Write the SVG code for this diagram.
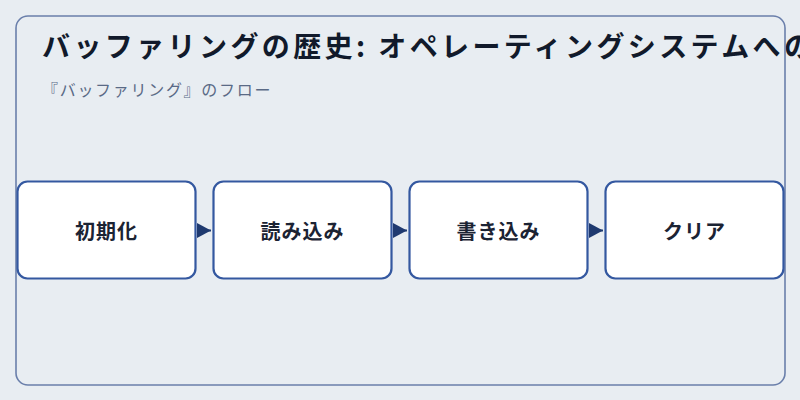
<svg xmlns="http://www.w3.org/2000/svg" width="800" height="400" viewBox="0 0 800 400">
<defs>
<style>
.bg{fill:#e8edf2}
.frame{fill:none;stroke:#6a7fab;stroke-width:1.6}
.node rect{fill:#ffffff;stroke:#3458a0;stroke-width:2.2}
.node text{font-family:"Noto Sans CJK JP","Noto Sans",sans-serif;font-size:20px;font-weight:700;fill:#1b2333;text-anchor:middle;letter-spacing:1px}
.title{font-family:"Noto Sans CJK JP","Noto Sans",sans-serif;font-size:28px;font-weight:700;fill:#111a2b;letter-spacing:3.4px}
.sub{font-family:"Noto Sans CJK JP","Noto Sans",sans-serif;font-size:16px;fill:#5a6a86;letter-spacing:1.7px}
.edge{stroke:#1f3a70;stroke-width:2;fill:none}
</style>
<marker id="arr" markerWidth="14" markerHeight="15" refX="14" refY="7.5" orient="auto" markerUnits="userSpaceOnUse">
<path d="M0,0 L14,7.5 L0,15 Z" fill="#1f3a70"/>
</marker>
</defs>
<rect class="bg" x="0" y="0" width="800" height="400"/>
<text class="title" x="42" y="57">バッファリングの歴史: オペレーティングシステムへの</text>
<text class="sub" x="42" y="96">『バッファリング』のフロー</text>
<rect class="frame" x="16" y="16" width="769" height="369" rx="12"/>
<g id="connectors">
<path class="edge" d="M197,230.5 L211,230.5" marker-end="url(#arr)"/>
<path class="edge" d="M393,230.5 L407,230.5" marker-end="url(#arr)"/>
<path class="edge" d="M589,230.5 L603,230.5" marker-end="url(#arr)"/>
</g>
<g id="node1" class="node"><rect x="17.5" y="181.5" width="178" height="97" rx="10"/><text x="106.5" y="239">初期化</text></g>
<g id="node2" class="node"><rect x="213.5" y="181.5" width="178" height="97" rx="10"/><text x="302.5" y="239">読み込み</text></g>
<g id="node3" class="node"><rect x="409.5" y="181.5" width="178" height="97" rx="10"/><text x="498.5" y="239">書き込み</text></g>
<g id="node4" class="node"><rect x="605.5" y="181.5" width="178" height="97" rx="10"/><text x="694.5" y="239">クリア</text></g>
</svg>
